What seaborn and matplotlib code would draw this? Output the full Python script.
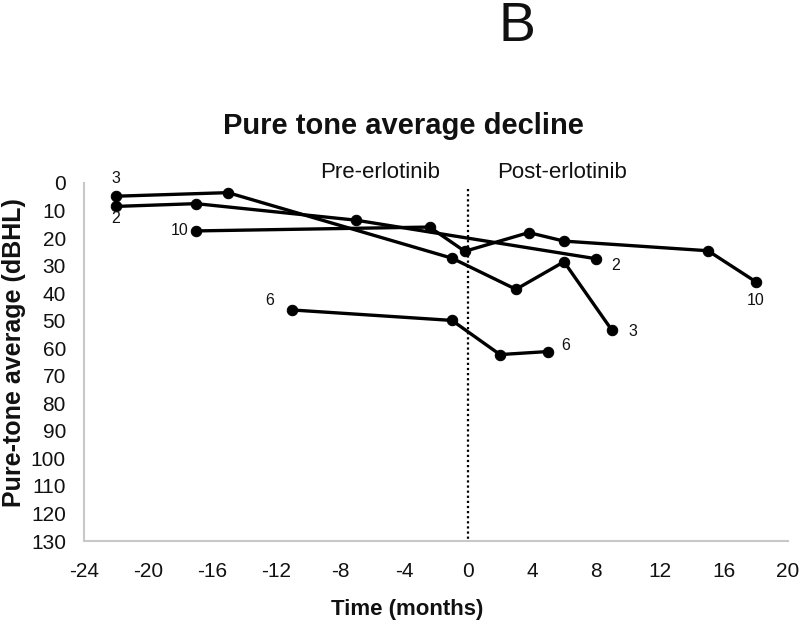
import matplotlib
matplotlib.use("Agg")
import matplotlib.pyplot as plt
import seaborn as sns
import pandas as pd

# Data
patient_2_time = [-22, -17, -7, 8]
patient_2_pta = [8.5, 7.5, 13.5, 27.5]
patient_3_time = [-22, -15, -1, 3, 6, 9]
patient_3_pta = [4.8, 3.5, 27.3, 38.6, 28.6, 53.5]
patient_6_time = [-11, -1, 2, 5]
patient_6_pta = [46.1, 49.9, 62.3, 61.2]
patient_10_time = [-17, -2.4, -0.2, 3.8, 6, 15, 18]
patient_10_pta = [17.4, 16.0, 24.8, 18.0, 21.1, 24.6, 35.9]

x_ticks = [-24, -20, -16, -12, -8, -4, 0, 4, 8, 12, 16, 20]
y_ticks = list(range(0, 131, 10))

frames = []
for pid, t, v in [("2", patient_2_time, patient_2_pta),
                  ("3", patient_3_time, patient_3_pta),
                  ("6", patient_6_time, patient_6_pta),
                  ("10", patient_10_time, patient_10_pta)]:
    frames.append(pd.DataFrame({"patient": pid, "time": t, "pta": v}))
df = pd.concat(frames, ignore_index=True)

sns.set_style("white")
plt.rcParams['font.family'] = ['Liberation Sans', 'DejaVu Sans']
plt.rcParams['axes.unicode_minus'] = False

fig = plt.figure(figsize=(8, 6.28), dpi=100)
ax = fig.add_axes([0.105, 0.1385, 0.88, 0.5701])

sns.lineplot(data=df, x="time", y="pta", units="patient", estimator=None,
             sort=False, color="black", linewidth=2.4, marker="o",
             markersize=7.5, markeredgecolor="black", ax=ax, legend=False)

ax.plot([0, 0], [2, 130], color="black", linestyle=(0, (1, 1.3)), linewidth=1.6)

ax.set_xlim(-24, 20)
ax.set_ylim(130, 0)
ax.set_xticks(x_ticks)
ax.set_yticks(y_ticks)
ax.tick_params(axis="both", which="both", direction="out", length=5, width=1,
               color="#c8c8c8", labelsize=15, labelcolor="#111111")
ax.tick_params(axis="x", pad=10)
ax.tick_params(axis="y", pad=8)
for side in ["top", "right"]:
    ax.spines[side].set_visible(False)
for side in ["left", "bottom"]:
    ax.spines[side].set_color("#c8c8c8")
    ax.spines[side].set_linewidth(1.5)
ax.set_xlabel("")
ax.set_ylabel("")

# series labels
labels = [("3", -22, -1.5), ("2", -22, 13.0),
          ("10", -18.0, 17.2), ("6", -12.4, 42.6),
          ("2", 9.2, 30.0), ("10", 18.0, 42.6),
          ("3", 10.3, 53.8), ("6", 6.1, 59.0)]
for txt, x, y in labels:
    ax.text(x, y, txt, ha="center", va="center", fontsize=11.5, color="#111111", clip_on=False)

fig.text(0.646, 0.957, "B", ha="center", va="center", fontsize=40, color="#111111")
fig.text(0.504, 0.80, "Pure tone average decline", ha="center", va="center",
         fontsize=21, fontweight="bold", color="#111111")
fig.text(0.4756, 0.726, "Pre-erlotinib", ha="center", va="center", fontsize=16, color="#111111")
fig.text(0.702, 0.726, "Post-erlotinib", ha="center", va="center", fontsize=16, color="#111111")
fig.text(0.509, 0.030, "Time (months)", ha="center", va="center", fontsize=16,
         fontweight="bold", color="#111111")
fig.text(0.017, 0.438, "Pure-tone average (dBHL)", ha="center", va="center", rotation=90,
         fontsize=18, fontweight="bold", color="#111111")

fig.savefig("out.png", dpi=100)
